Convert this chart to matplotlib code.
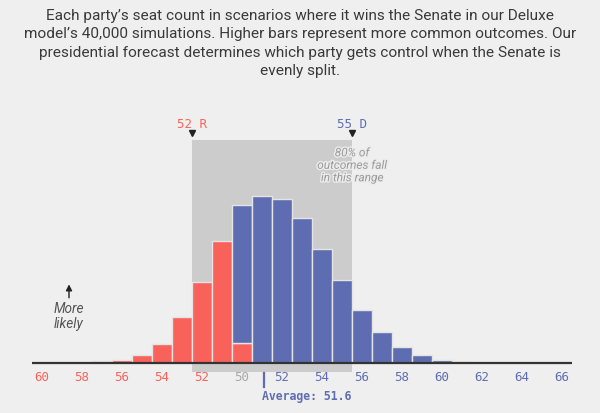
import matplotlib

matplotlib.use("Agg")
import matplotlib.pyplot as plt
import matplotlib.patheffects as pe
import numpy as np

# share of simulations (%) by seat count, for the party that wins the Senate
r_seats = [57, 56, 55, 54, 53, 52, 51, 50]
r_share = [0.1, 0.25, 0.65, 1.55, 3.75, 6.65, 9.95, 1.6]
d_seats = [50, 51, 52, 53, 54, 55, 56, 57, 58, 59, 60, 61]
d_share = [11.35, 13.65, 13.4, 11.9, 9.3, 6.75, 4.35, 2.55, 1.3, 0.6, 0.25, 0.05]

range_r = 52   # 80% range, Republican end
range_d = 55   # 80% range, Democratic end
average_d = 51.6

tick_pos = list(range(40, 67, 2))

BG = "#efefef"
RED = "#f9625b"
BLUE = "#5e6db1"
GRAY = "#a8a8a8"
MONO = ["DejaVu Sans Mono"]

title = ("Each party\u2019s seat count in scenarios where it wins the Senate in our Deluxe\n"
         "model\u2019s 40,000 simulations. Higher bars represent more common outcomes. Our\n"
         "presidential forecast determines which party gets control when the Senate is\n"
         "evenly split.")


def r_pos(seat):
    # Republican seats run leftwards from the 50-50 mark
    return 100 - seat


W, H = 600, 414
fig = plt.figure(figsize=(W / 100, H / 100), dpi=100, facecolor=BG)
ax = fig.add_axes([32 / W, 41.3 / H, 540 / W, 232 / H])
ax.set_facecolor("none")
ax.set_xlim(39.5, 66.5)
ax.set_ylim(-0.74, 18.3)
for s in ax.spines.values():
    s.set_visible(False)

# 80% range shading
lo, hi = r_pos(range_r) - 0.5, range_d + 0.5
ax.axvspan(lo, hi, ymin=0, ymax=1, color="#cccccc", zorder=0, lw=0)

# bars
r_x = [r_pos(s) for s in r_seats]
ax.bar(r_x, r_share, width=1.0, color=RED, edgecolor="#e4e4e4", linewidth=1.0, zorder=2)
r_lookup = dict(zip(r_x, r_share))
d_bottom = [r_lookup.get(s, 0) for s in d_seats]
ax.bar(d_seats, d_share, bottom=d_bottom, width=1.0, color=BLUE,
       edgecolor="#e4e4e4", linewidth=1.0, zorder=2)

# baseline
ax.plot([39.5, 66.5], [0, 0], color="#333333", lw=1.6, zorder=3, solid_capstyle="butt")

# x tick labels
ax.set_xticks(tick_pos)
labels = [str(100 - p) if p < 50 else str(p) for p in tick_pos]
ax.set_xticklabels(labels, family=MONO, fontsize=9)
ax.tick_params(axis="x", length=0, pad=-1.3)
ax.set_yticks([])
for p, lab in zip(tick_pos, ax.get_xticklabels()):
    lab.set_color(RED if p < 50 else (GRAY if p == 50 else BLUE))

# range markers
ymax = ax.get_ylim()[1]
for x, txt, col in [(lo, f"{range_r} R", RED), (hi, f"{range_d} D", BLUE)]:
    ax.plot([x], [ymax + 0.55], marker="v", color="#222222", markersize=5,
            clip_on=False, zorder=4)
    ax.text(x, ymax + 1.35, txt, ha="center", va="center", color=col,
            family=MONO, fontsize=9, clip_on=False)

ax.text(hi, ymax - 2.1, "80% of\noutcomes fall\nin this range", ha="center", va="center",
        color="#9a9a9a", style="italic", family="Roboto", fontsize=8.5, linespacing=0.95,
        path_effects=[pe.withStroke(linewidth=2, foreground="#ececec")], zorder=5)

# average marker
avg_x = average_d - 0.5
ax.plot([avg_x, avg_x], [-0.85, -2.0], color=BLUE, lw=1.6, clip_on=False)
ax.text(avg_x - 0.08, -2.7, f"Average: {average_d}", ha="left", va="center",
        color=BLUE, family=MONO, fontsize=8.3, fontweight="bold", clip_on=False)

# "More likely" hint
ax.annotate("", xy=(41.35, 6.65), xytext=(41.35, 5.1),
            arrowprops=dict(arrowstyle="-|>,head_length=0.35,head_width=0.18",
                            color="#222222", lw=1.0))
ax.text(41.35, 3.85, "More\nlikely", ha="center", va="center", color="#555555",
        style="italic", family="Roboto", fontsize=9.8, linespacing=1.1)

fig.text(0.5, 1 - 43.5 / H, title, ha="center", va="center", family="Roboto",
         fontsize=11.1, color="#3a3a3a", linespacing=1.42)

fig.savefig("out.png", dpi=100, facecolor=BG)
